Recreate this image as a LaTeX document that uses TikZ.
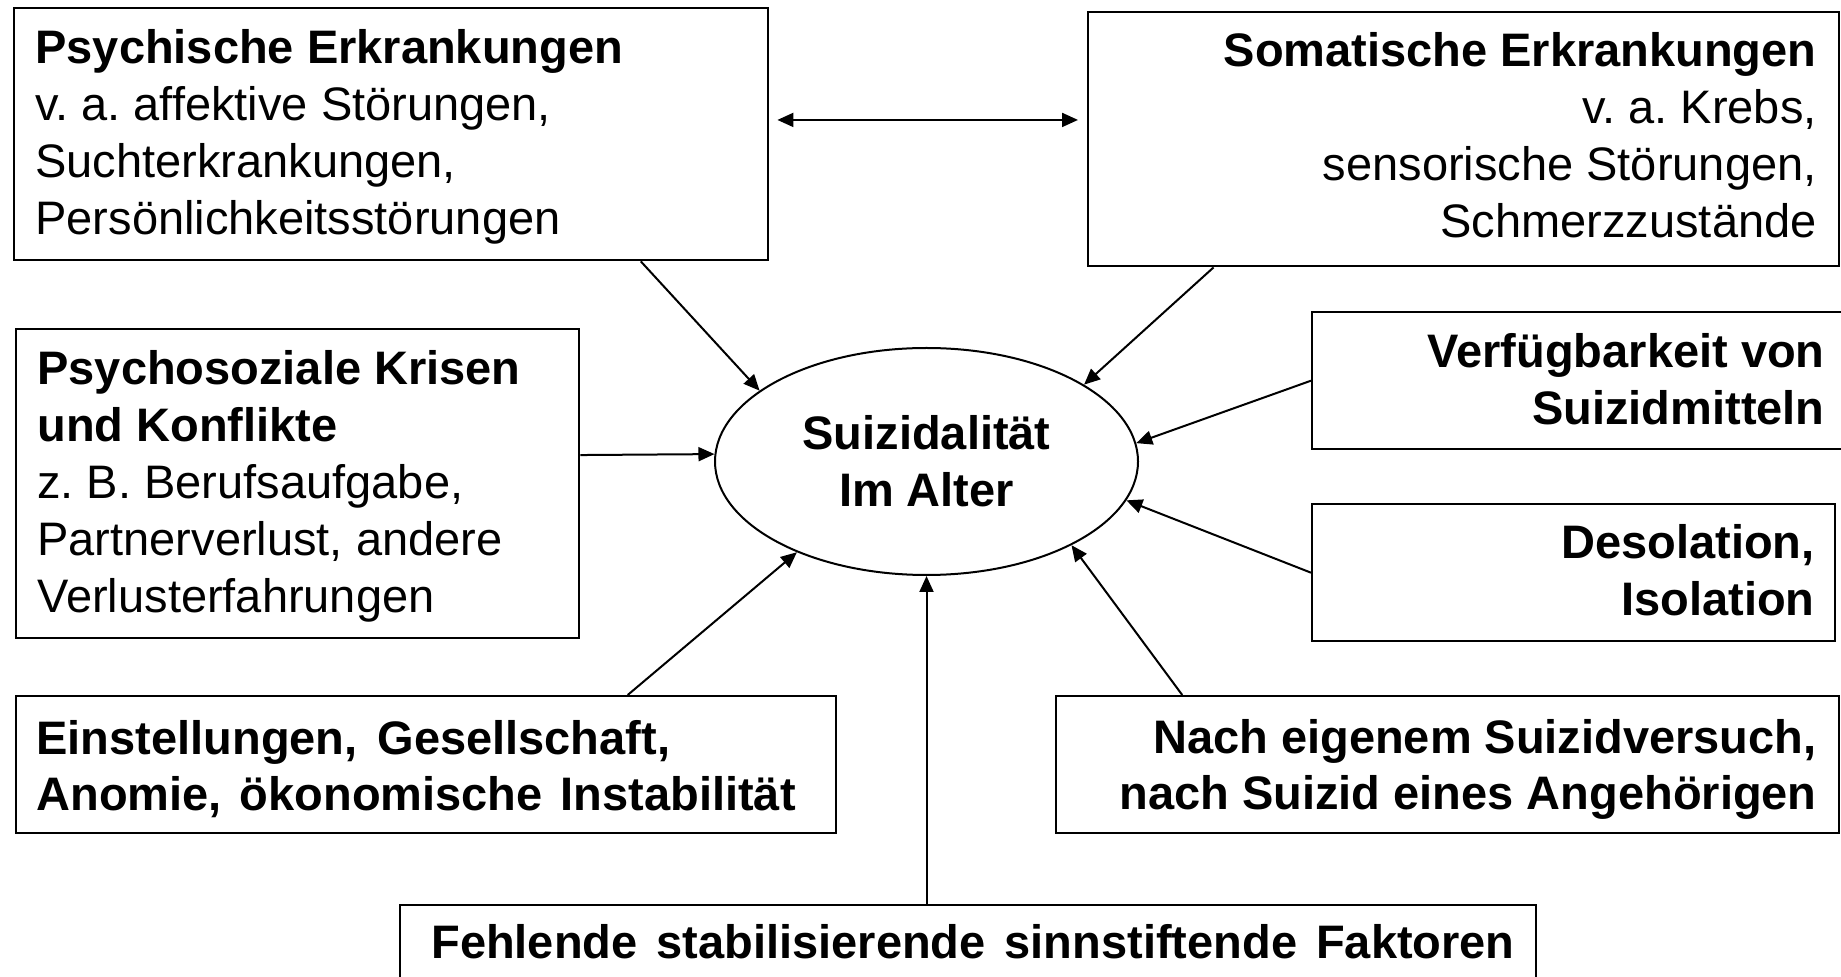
\documentclass[tikz,border=0pt]{standalone}
\usepackage{fontspec}
\setmainfont{Liberation Sans}
\usetikzlibrary{shapes.geometric,arrows.meta,calc}
\frenchspacing
\begin{document}
\begin{tikzpicture}[x=0.5pt,y=-0.5pt,
  box/.style={draw, line width=1.2pt, rectangle, inner sep=0pt, anchor=north west},
  txt/.style={inner sep=0pt, font=\fontsize{23.5pt}{28.5pt}\selectfont\frenchspacing},
  arr/.style={line width=1pt, -{Triangle[length=8pt,width=7pt]}},
  dblarr/.style={line width=1pt, {Triangle[length=8pt,width=7pt]}-{Triangle[length=8pt,width=7pt]}},
]
\useasboundingbox (0,0) rectangle (1841,977);
\fill[white] (0,0) rectangle (1841,977);

% boxes
\node[box, minimum width=377pt,   minimum height=126pt]   (b1) at (13,7) {};
\node[box, minimum width=375.5pt, minimum height=127pt]   (b2) at (1087,11) {};
\node[box, minimum width=281.5pt, minimum height=154.5pt] (b3) at (15,328) {};
\node[box, minimum width=270pt,   minimum height=68.5pt]  (b4) at (1311,311) {};
\node[box, minimum width=261.5pt, minimum height=68.5pt]  (b5) at (1311,503) {};
\node[box, minimum width=410pt,   minimum height=68.5pt]  (b6) at (15,695) {};
\node[box, minimum width=391.5pt, minimum height=68.5pt]  (b7) at (1055,695) {};
\node[box, minimum width=568pt,   minimum height=45pt]    (b8) at (399,904) {};

% texts
\node[txt, anchor=north west, align=left] (t1) at (35,23)
  {\rule{0pt}{20pt}\textbf{Psychische Erkrankungen}\\v. a. affektive Störungen,\\Suchterkrankungen,\\Persönlichkeitsstörungen};
\node[txt, anchor=north east, align=right] (t2) at (1817,26)
  {\rule{0pt}{20pt}\textbf{Somatische Erkrankungen}\\v. a. Krebs,\\sensorische Störungen,\\Schmerzzustände};
\node[txt, anchor=north west, align=left] (t3) at (37,344)
  {\rule{0pt}{20pt}\textbf{Psychosoziale Krisen}\\\textbf{und Konflikte}\\z. B. Berufsaufgabe,\\Partnerverlust, andere\\Verlusterfahrungen};
\node[txt, anchor=north east, align=right, font=\fontsize{23.5pt}{28.5pt}\selectfont\bfseries] (t4) at (1825,327)
  {\rule{0pt}{20pt}Verfügbarkeit von\\Suizidmitteln};
\node[txt, anchor=north east, align=right, font=\fontsize{23.5pt}{28.5pt}\selectfont\bfseries] (t5) at (1815,518)
  {\rule{0pt}{20pt}Desolation,\\Isolation};
\node[txt, anchor=north west, align=left, font=\fontsize{23.5pt}{28pt}\selectfont\bfseries] (t6) at (36,714)
  {\rule{0pt}{20pt}Einstellungen,\hspace{10pt}Gesellschaft,\\Anomie,\hspace{9pt}ökonomische\hspace{9pt}Instabilität};
\node[txt, anchor=north east, align=right, font=\fontsize{23.5pt}{28pt}\selectfont\bfseries] (t7) at (1817,713)
  {\rule{0pt}{20pt}Nach eigenem Suizidversuch,\\nach Suizid eines Angehörigen};
\node[txt, anchor=base, font=\fontsize{23.5pt}{28.5pt}\selectfont\bfseries] (t8) at (973,958)
  {Fehlende\hspace{9.5pt}stabilisierende\hspace{9.5pt}sinnstiftende\hspace{9.5pt}Faktoren};

% central ellipse
\node[draw, ellipse, line width=1pt, minimum width=211.5pt, minimum height=113.5pt,
  inner sep=0pt, align=center, font=\fontsize{23.5pt}{28.5pt}\selectfont\bfseries]
  (e) at (926.5,461.5) {Suizidalität\\Im Alter};

% connectors
\coordinate (d1) at ($(b1.north east)!0.444!(b1.south east)$);
\draw[dblarr, shorten <=4pt, shorten >=4.5pt] (d1) -- (d1 -| b2.west);

\draw[arr] ($(b1.south west)!0.830!(b1.south east)$) -- (e.157.8);
\draw[arr] ($(b2.south west)!0.168!(b2.south east)$) -- (e.26.5);
\draw[arr] ($(b3.north east)!0.408!(b3.south east)$) -- (e.178);
\draw[arr] (b4.west) -- (e.5.9);
\draw[arr] (b5.west) -- (e.349.1);
\draw[arr] ($(b6.north west)!0.745!(b6.north east)$) -- (e.215.3);
\draw[arr] ($(b7.north west)!0.162!(b7.north east)$) -- (e.330.6);
\draw[arr] (e.south |- b8.north) -- (e.south);
\end{tikzpicture}
\end{document}
